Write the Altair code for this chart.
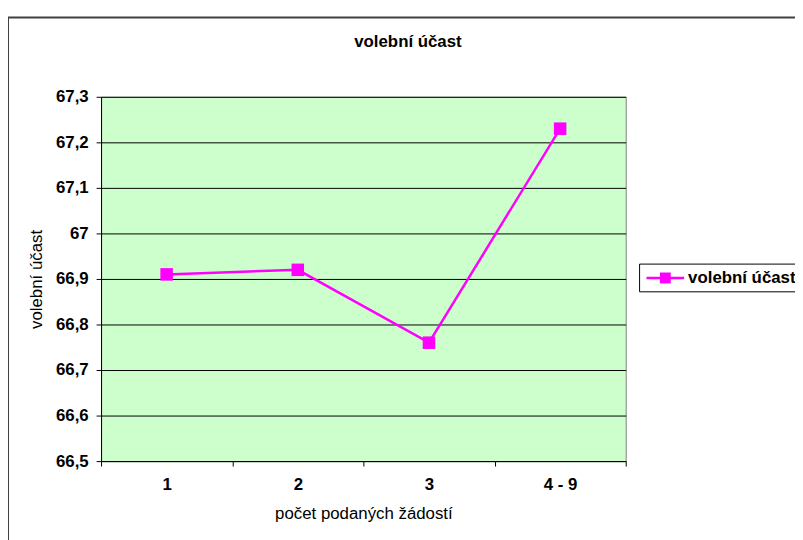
import altair as alt
import pandas as pd

categories = ["1", "2", "3", "4 - 9"]
values = [66.91, 66.92, 66.76, 67.23]
series_name = "volební účast"
chart_title = "volební účast"
x_title = "počet podaných žádostí"
y_title = "volební účast"
y_ticks = [66.5, 66.6, 66.7, 66.8, 66.9, 67.0, 67.1, 67.2, 67.3]

df = pd.DataFrame({"cat": categories, "val": values})
one = pd.DataFrame({"label": [series_name]})

FONT = "Liberation Sans"
MAGENTA = "#FF00FF"

x_enc = alt.X(
    "cat:N",
    sort=categories,
    bandPosition=0.5,
    scale=alt.Scale(type="band", paddingInner=0, paddingOuter=0),
    axis=alt.Axis(
        labelAngle=0,
        tickBand="extent",
        grid=False,
        title=x_title,
        labelPadding=11,
        titlePadding=13,
    ),
)
y_enc = alt.Y(
    "val:Q",
    scale=alt.Scale(domain=[66.5, 67.3], nice=False, zero=False),
    axis=alt.Axis(
        values=y_ticks,
        labelExpr="replace(format(datum.value, '.1~f'), '.', ',')",
        grid=True,
        title=y_title,
        titlePadding=10,
        labelPadding=8,
    ),
)

base = alt.Chart(df)

line = base.mark_line(color=MAGENTA, strokeWidth=2.5).encode(x=x_enc, y=y_enc)
points = base.mark_point(
    shape="square", filled=True, size=160, opacity=1, color=MAGENTA
).encode(x=x_enc, y=y_enc)

# outer chart frame (Excel style)
frame = alt.Chart(one).mark_rect(
    fill="transparent", stroke="#404040", strokeWidth=2
).encode(x=alt.value(-94), x2=alt.value(900), y=alt.value(-80), y2=alt.value(700))

# chart title
title = alt.Chart(one).mark_text(
    font=FONT, fontSize=17, fontWeight="bold", color="#000000",
    align="center", baseline="middle"
).encode(x=alt.value(310), y=alt.value(-55), text=alt.value(chart_title))

# legend (box, line sample, square, label)
leg_box = alt.Chart(one).mark_rect(
    fill="#FFFFFF", stroke="#000000", strokeWidth=1
).encode(x=alt.value(544), x2=alt.value(800), y=alt.value(169), y2=alt.value(197))
leg_line = alt.Chart(one).mark_rule(color=MAGENTA, strokeWidth=2.5).encode(
    x=alt.value(551), x2=alt.value(589), y=alt.value(183)
)
leg_pt = alt.Chart(one).mark_point(
    shape="square", filled=True, size=121, opacity=1, color=MAGENTA
).encode(x=alt.value(570), y=alt.value(183))
leg_text = alt.Chart(one).mark_text(
    font=FONT, fontSize=17, fontWeight="bold", color="#000000",
    align="left", baseline="middle"
).encode(x=alt.value(593), y=alt.value(183), text="label:N")

chart = (
    alt.layer(frame, line, points, title, leg_box, leg_line, leg_pt, leg_text)
    .properties(
        width=530,
        height=368,
        autosize=alt.AutoSizeParams(type="none"),
        padding={"left": 94, "top": 87, "right": 171, "bottom": 77},
        background="#FFFFFF",
    )
    .configure_view(fill="#CCFFCC", stroke="#808080", strokeWidth=1)
    .configure_axis(
        labelFont=FONT,
        labelFontSize=17,
        labelFontWeight="bold",
        labelColor="#000000",
        titleFont=FONT,
        titleFontSize=17,
        titleFontWeight="normal",
        titleColor="#000000",
        domainColor="#000000",
        domainWidth=1,
        tickColor="#000000",
        tickSize=5,
        gridColor="#000000",
        gridOpacity=1,
        gridWidth=1,
    )
)

chart.save("out.html", embed_options={"renderer": "svg", "actions": False})
